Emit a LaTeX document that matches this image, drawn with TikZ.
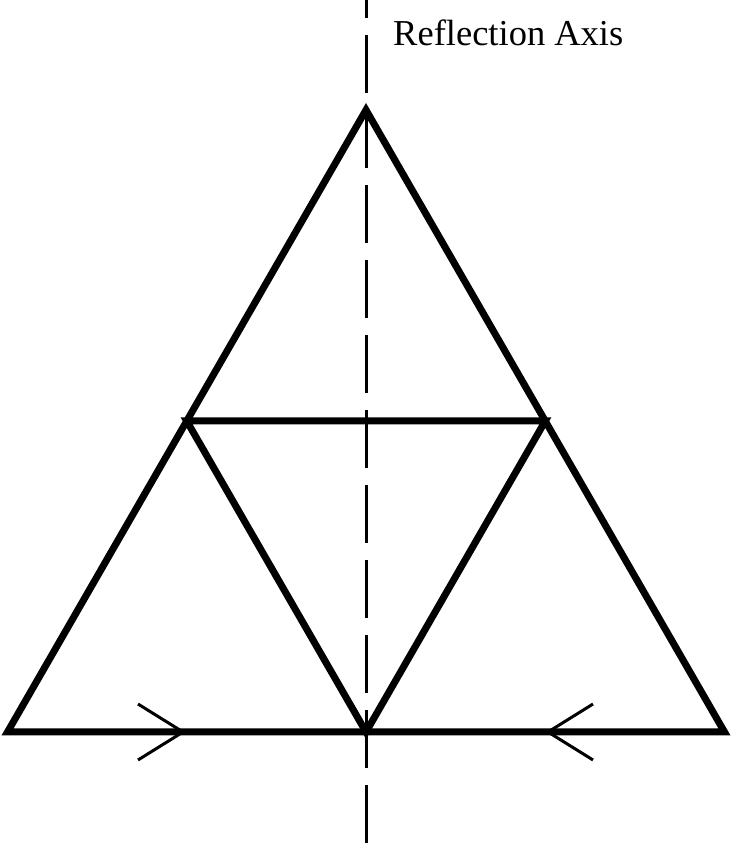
\documentclass[tikz,border=0pt]{standalone}
\usepackage{fontspec}
\setmainfont{Liberation Serif}
\begin{document}
\begin{tikzpicture}[x=1pt,y=1pt,
  tri/.style={line width=7pt,line join=miter},
  axis/.style={line width=3pt,dash pattern=on 58pt off 17pt,dash phase=40pt},
  halfarrow/.style={line width=3pt,line join=miter},
  lbl/.style={font=\fontsize{36.5}{42}\selectfont,anchor=base west,inner sep=0pt}]
\useasboundingbox (0,0) rectangle (732,843);
\coordinate (A) at (366,733);
\coordinate (L) at (7.5,111);
\coordinate (R) at (724.5,111);
\coordinate (ML) at (186.75,422);
\coordinate (MR) at (545.25,422);
\coordinate (MB) at (366,111);
\coordinate (axtop) at (366,843);
\coordinate (axbot) at (366,0);
\draw[axis] (axtop) -- (axbot);
\draw[tri] (A) -- (L) -- (R) -- cycle;
\draw[tri] (ML) -- (MR) -- (MB) -- cycle;
\coordinate (t1) at (183,111);
\coordinate (t2) at (548,111);
\draw[halfarrow] (138,139) -- (t1) -- (138,83);
\draw[halfarrow] (593,139) -- (t2) -- (593,83);
\node[lbl] (label) at (393,797) {Reflection Axis};
\end{tikzpicture}
\end{document}
